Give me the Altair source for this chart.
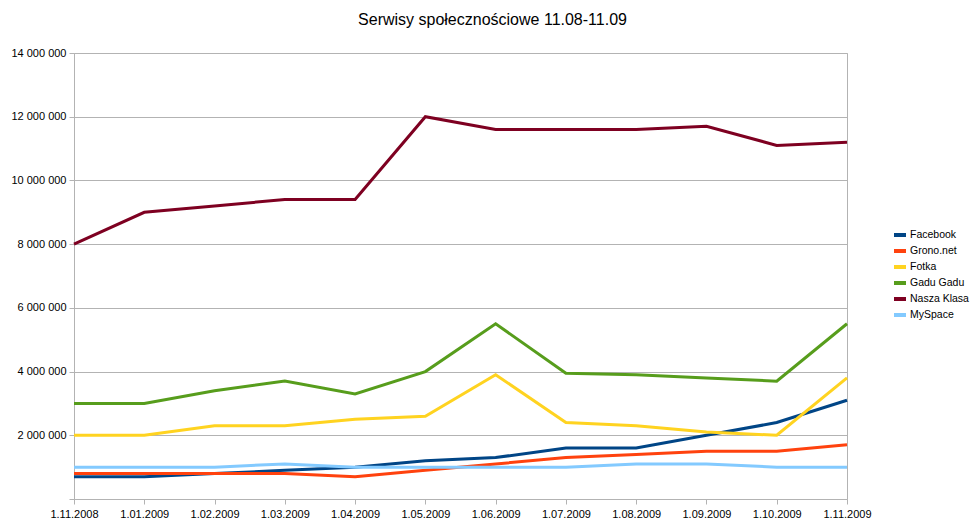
import altair as alt
import pandas as pd

categories = ["1.11.2008", "1.01.2009", "1.02.2009", "1.03.2009", "1.04.2009", "1.05.2009",
              "1.06.2009", "1.07.2009", "1.08.2009", "1.09.2009", "1.10.2009", "1.11.2009"]
series_names = ["Facebook", "Grono.net", "Fotka", "Gadu Gadu", "Nasza Klasa", "MySpace"]

facebook = [700000, 700000, 800000, 900000, 1000000, 1200000, 1300000, 1600000, 1600000, 2000000, 2400000, 3100000]
grono = [800000, 800000, 800000, 800000, 700000, 900000, 1100000, 1300000, 1400000, 1500000, 1500000, 1700000]
fotka = [2000000, 2000000, 2300000, 2300000, 2500000, 2600000, 3900000, 2400000, 2300000, 2100000, 2000000, 3800000]
gadu = [3000000, 3000000, 3400000, 3700000, 3300000, 4000000, 5500000, 3950000, 3900000, 3800000, 3700000, 5500000]
nasza = [8000000, 9000000, 9200000, 9400000, 9400000, 12000000, 11600000, 11600000, 11600000, 11700000, 11100000, 11200000]
myspace = [1000000, 1000000, 1000000, 1100000, 1000000, 1000000, 1000000, 1000000, 1100000, 1100000, 1000000, 1000000]

colors = ["#004586", "#ff420e", "#ffd320", "#579d1c", "#7e0021", "#83caff"]
y_ticks = [0, 2000000, 4000000, 6000000, 8000000, 10000000, 12000000, 14000000]

all_series = [facebook, grono, fotka, gadu, nasza, myspace]
rows = []
for name, vals in zip(series_names, all_series):
    for i, (d, v) in enumerate(zip(categories, vals)):
        rows.append({"series": name, "date": d, "value": v, "idx": i})
df = pd.DataFrame(rows)

FONT = "Liberation Sans"

chart = alt.Chart(df).mark_line(strokeWidth=3).encode(
    x=alt.X("date:N", sort=categories,
            scale=alt.Scale(type="point", padding=0),
            axis=alt.Axis(title=None, labelAngle=0, grid=False, tickSize=5,
                          labelPadding=4, domain=False)),
    y=alt.Y("value:Q", scale=alt.Scale(domain=[0, 14000000], nice=False, zero=True),
            axis=alt.Axis(title=None, values=y_ticks, grid=True, tickSize=5, labelPadding=3,
                          labelExpr="datum.value == 0 ? '' : replace(format(datum.value, ',d'), regexp(',', 'g'), ' ')")),
    color=alt.Color("series:N", sort=series_names,
                    scale=alt.Scale(domain=series_names, range=colors),
                    legend=alt.Legend(title=None, orient="none", legendX=818, legendY=174,
                                      symbolType="stroke", symbolStrokeWidth=4, symbolSize=144,
                                      labelFontSize=10.5, labelFont=FONT, rowPadding=0,
                                      padding=0, labelColor="#000000", labelOffset=2)),
    order=alt.Order("idx:Q"),
).properties(
    width=773, height=446,
    autosize="none",
    padding={"left": 74, "top": 53, "right": 124, "bottom": 27},
    title=alt.TitleParams("Serwisy społecznościowe 11.08-11.09", fontSize=16, font=FONT,
                          fontWeight="normal", anchor="middle", dx=32, offset=19,
                          color="#000000"),
).configure_view(
    stroke="#b3b3b3", strokeWidth=1
).configure_axis(
    gridColor="#b3b3b3", domainColor="#b3b3b3", tickColor="#b3b3b3",
    labelFont=FONT, labelFontSize=11, labelColor="#000000"
)

chart.save("out.html", embed_options={"renderer": "svg", "actions": False})
